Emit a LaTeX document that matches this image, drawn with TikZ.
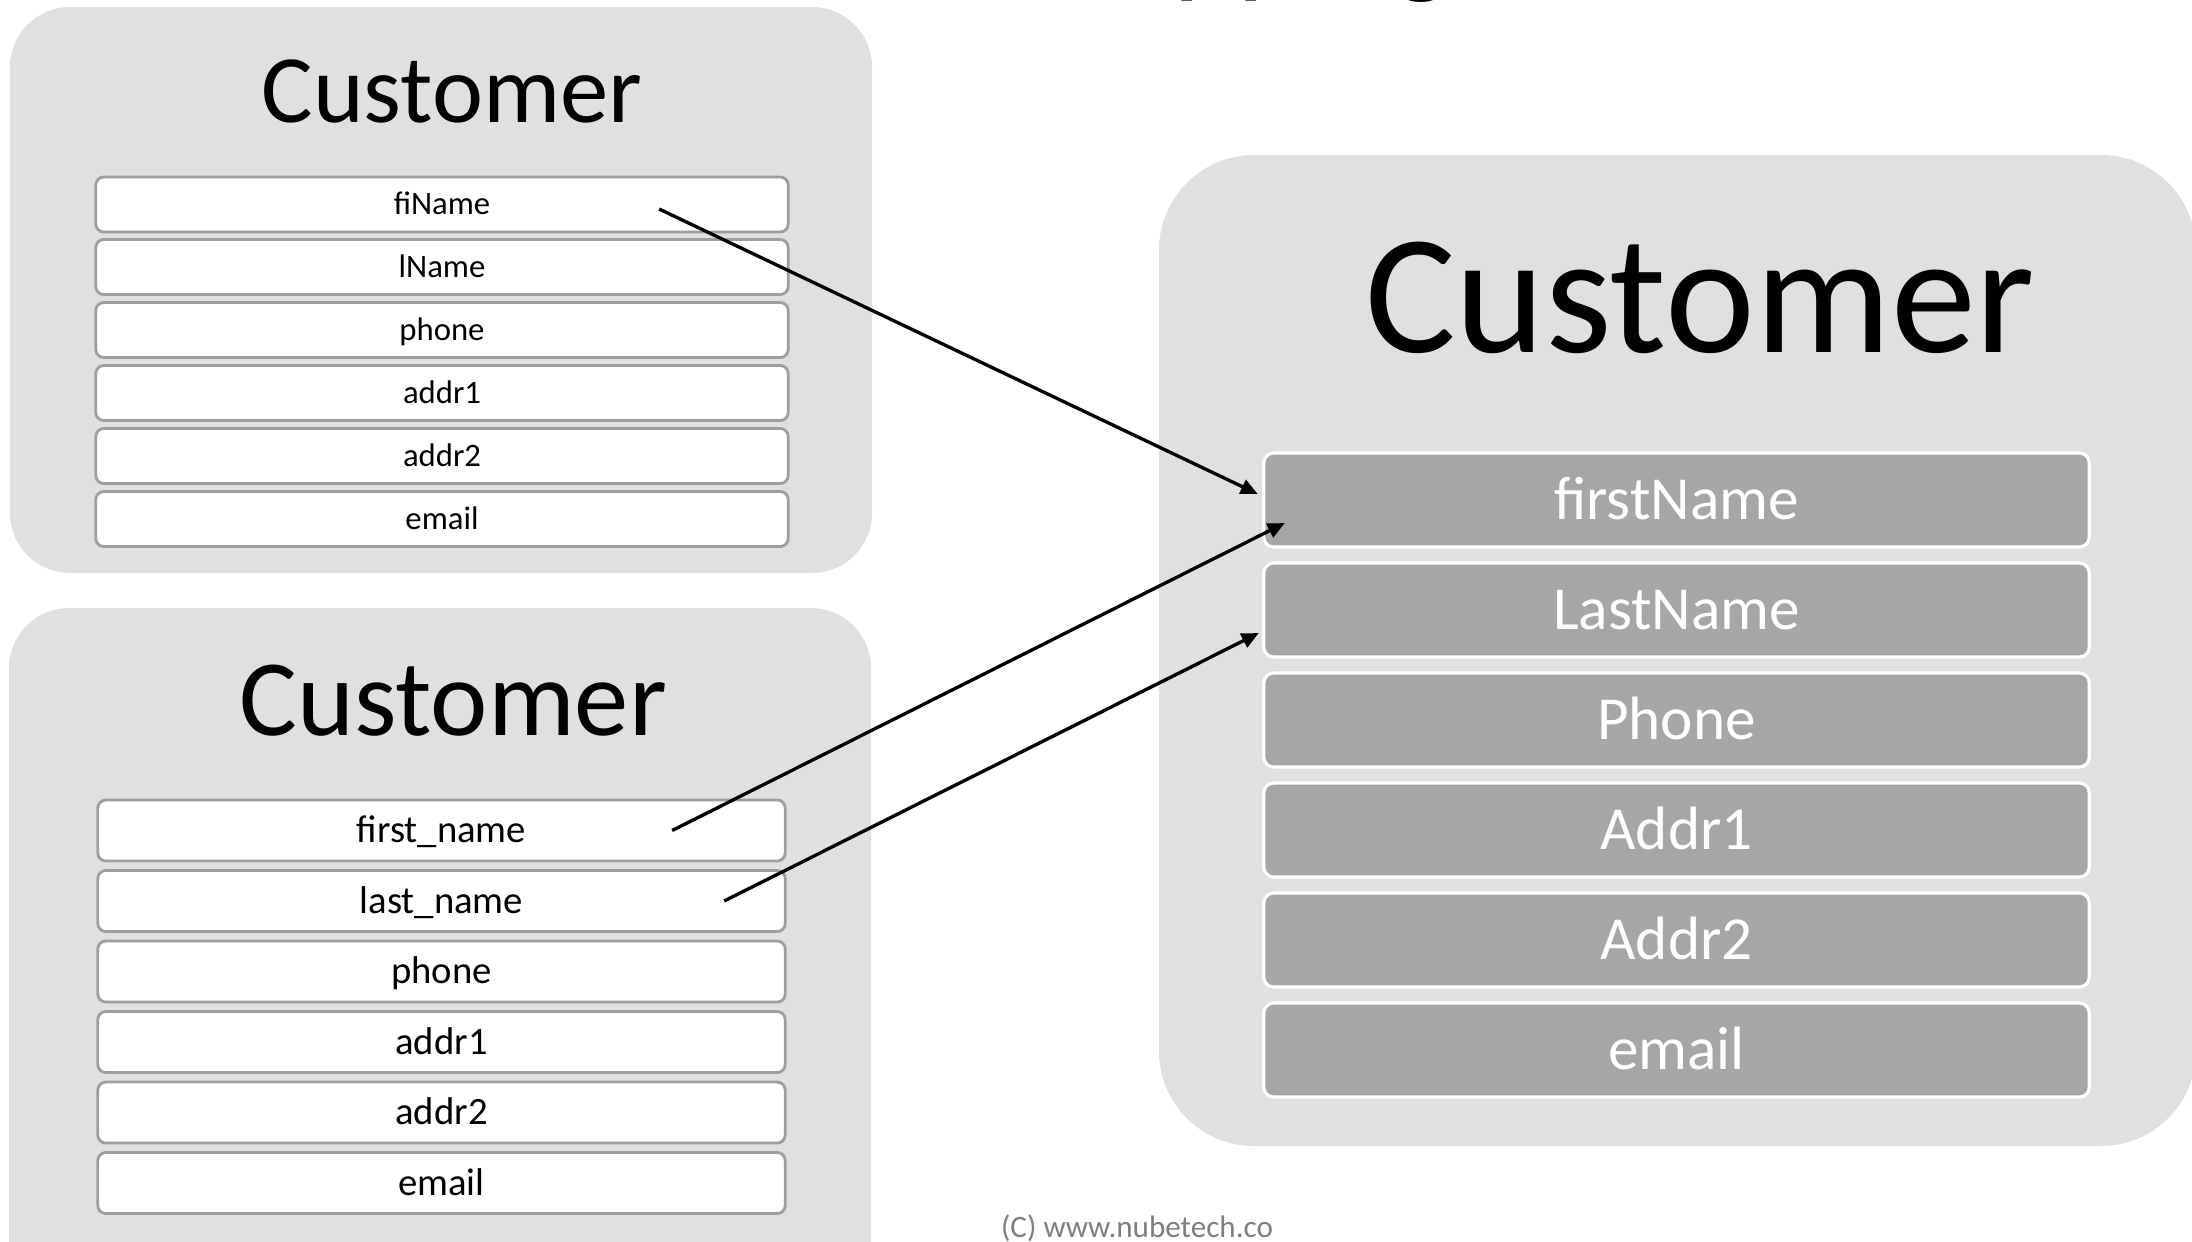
\documentclass[tikz,border=0pt]{standalone}
\usepackage{fontspec}
\setmainfont{Carlito}
\usepackage{tikz}
\usetikzlibrary{arrows.meta}
\definecolor{panelgray}{RGB}{224,224,224}
\definecolor{boxline}{RGB}{158,158,158}
\definecolor{fieldgray}{RGB}{166,166,166}
\definecolor{notegray}{RGB}{127,127,127}

\begin{document}
\begin{tikzpicture}[x=0.01cm, y=-0.01cm, >={Triangle[length=0.17cm,width=0.15cm]},
        panel/.style={fill=panelgray},
        field/.style={rounded corners=0.08cm, inner sep=0pt, outer sep=0pt, text depth=0pt},
        oldfield/.style={field, draw=boxline, line width=0.8pt, fill=white, minimum width=6.92cm, minimum height=0.55cm, text height=5.9pt, font=\fontsize{9.3pt}{11pt}\selectfont},
        legfield/.style={field, draw=boxline, line width=0.8pt, fill=white, minimum width=6.87cm, minimum height=0.61cm, text height=7pt, font=\fontsize{11pt}{13pt}\selectfont},
        newfield/.style={field, rounded corners=0.1cm, draw=white, line width=0.9pt, fill=fieldgray, text=white, minimum width=8.25cm, minimum height=0.94cm, text height=11pt, font=\fontsize{17.4pt}{20pt}\selectfont},
        map/.style={->, line width=0.95pt}]
            \path[use as bounding box, fill=white] (0,0) rectangle (2192,1241);
            \node[anchor=base, font=\fontsize{34.7pt}{40pt}\selectfont] (heading) at (1231,-19) {Mapping};
            \fill[panel, rounded corners=0.6cm] (10,7) rectangle (872,573);
            \fill[panel, rounded corners=0.6cm] (9,608) rectangle (871,1300);
            \fill[panel, rounded corners=0.95cm] (1159,155) rectangle (2196,1146);
            % old table
            \node[anchor=base, font=\fontsize{27.5pt}{32pt}\selectfont] (oldtitle) at (452,122) {Customer};
            \node[oldfield] (a1) at (442,204.5) {fiName};
            \node[oldfield] (a2) at (442,267) {lName};
            \node[oldfield] (a3) at (442,330) {phone};
            \node[oldfield] (a4) at (442,393) {addr1};
            \node[oldfield] (a5) at (442,456) {addr2};
            \node[oldfield] (a6) at (442,519) {email};
            % legacy table
            \node[anchor=base, font=\fontsize{30.9pt}{36pt}\selectfont] (legtitle) at (453,735) {Customer};
            \node[legfield] (b1) at (441.5,830.5) {first\_name};
            \node[legfield] (b2) at (441.5,901) {last\_name};
            \node[legfield] (b3) at (441.5,971.5) {phone};
            \node[legfield] (b4) at (441.5,1042) {addr1};
            \node[legfield] (b5) at (441.5,1112.5) {addr2};
            \node[legfield] (b6) at (441.5,1183) {email};
            % new table
            \node[anchor=base, font=\fontsize{48.4pt}{56pt}\selectfont] (newtitle) at (1700,352) {Customer};
            \node[newfield] (c1) at (1676.5,500) {firstName};
            \node[newfield] (c2) at (1676.5,610) {LastName};
            \node[newfield] (c3) at (1676.5,720) {Phone};
            \node[newfield] (c4) at (1676.5,830) {Addr1};
            \node[newfield] (c5) at (1676.5,940) {Addr2};
            \node[newfield] (c6) at (1676.5,1050) {email};
            \draw[map] ([xshift=-1.29cm,yshift=-0.045cm]a1.east) -- ([xshift=-0.06cm,yshift=0.06cm]c1.west);
            \draw[map] ([xshift=-1.13cm]b1.east) -- ([xshift=0.21cm,yshift=-0.23cm]c1.west);
            \draw[map] ([xshift=-0.61cm]b2.east) -- ([xshift=-0.05cm,yshift=-0.23cm]c2.west);
            \node[anchor=base, text=notegray, font=\fontsize{8.85pt}{10pt}\selectfont] (credit) at (1137,1237) {(C) www.nubetech.co};
        \end{tikzpicture}
\end{document}
